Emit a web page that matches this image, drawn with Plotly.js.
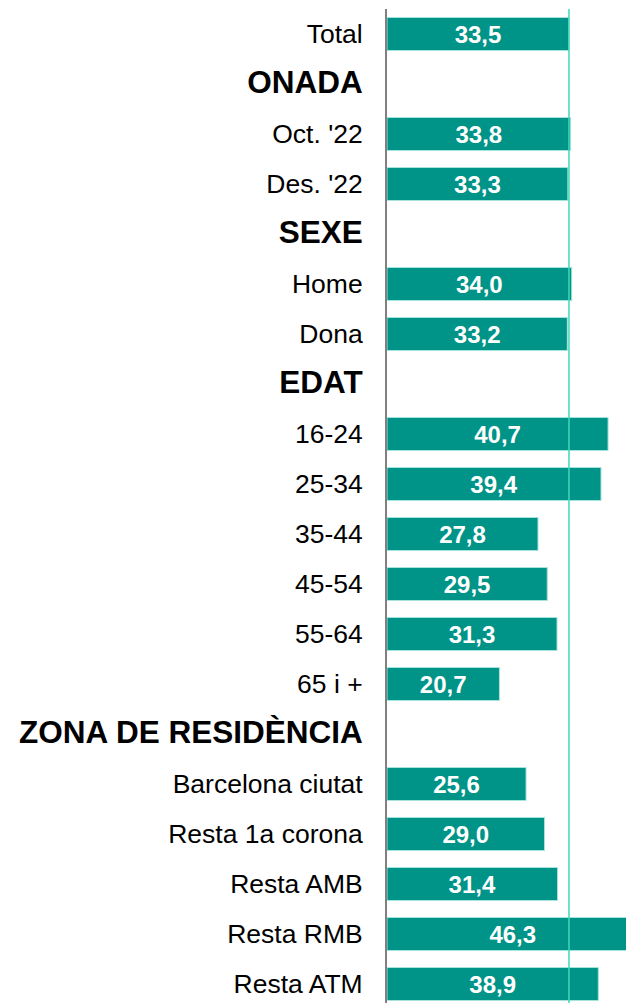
<!DOCTYPE html>
<html>
<head>
<meta charset="utf-8">
<script src="https://cdn.plot.ly/plotly-3.0.1.min.js"></script>
<style>html,body{margin:0;padding:0;background:#fff;}#chart{width:626px;height:1003px;}</style>
</head>
<body>
<div id="chart"></div>
<script>
// Row labels (top to bottom); headers have no bar
const labels = ["Total","ONADA","Oct. '22","Des. '22","SEXE","Home","Dona","EDAT","16-24","25-34","35-44","45-54","55-64","65 i +","ZONA DE RESIDÈNCIA","Barcelona ciutat","Resta 1a corona","Resta AMB","Resta RMB","Resta ATM"];
const isHeader = [false,true,false,false,true,false,false,true,false,false,false,false,false,false,true,false,false,false,false,false];
const values = [33.5,null,33.8,33.3,null,34.0,33.2,null,40.7,39.4,27.8,29.5,31.3,20.7,null,25.6,29.0,31.4,46.3,38.9];

const idx = labels.map((_, i) => i);
const fmt = v => v == null ? "" : v.toFixed(1).replace(".", ",");
const tickText = labels.map((l, i) => isHeader[i]
  ? '<span style="font-size:31.5px;font-weight:bold">' + l + '</span>'
  : l);

const bars = {
  type: "bar",
  orientation: "h",
  y: idx,
  x: values,
  width: 0.66,
  marker: {color: "#009488", line: {color: "#a6e3da", width: 1}},
  text: values.map(fmt),
  textposition: "inside",
  insidetextanchor: "middle",
  constraintext: "none",
  textfont: {family: "Liberation Sans, Arial, sans-serif", size: 24, color: "#ffffff", weight: "bold"},
  hoverinfo: "skip",
  cliponaxis: true
};

const layout = {
  width: 626,
  height: 1003,
  margin: {l: 387, r: 0, t: 9, b: 0, pad: 0},
  paper_bgcolor: "#ffffff",
  plot_bgcolor: "#ffffff",
  showlegend: false,
  font: {family: "Liberation Sans, Arial, sans-serif", color: "#000000"},
  xaxis: {
    range: [0, 44],
    showgrid: false,
    zeroline: false,
    showticklabels: false,
    ticks: "",
    showline: false,
    fixedrange: true
  },
  yaxis: {
    type: "linear",
    range: [19.38, -0.5],
    tickmode: "array",
    tickvals: idx,
    ticktext: tickText,
    tickfont: {family: "Liberation Sans, Arial, sans-serif", size: 26.5, color: "#000000"},
    ticks: "outside",
    ticklen: 17,
    tickcolor: "rgba(0,0,0,0)",
    showgrid: false,
    zeroline: false,
    showline: true,
    linecolor: "#808080",
    linewidth: 2,
    fixedrange: true
  },
  shapes: [{
    type: "line",
    xref: "x", yref: "paper",
    x0: values[0], x1: values[0],
    y0: 0, y1: 1,
    line: {color: "#3dd9b8", width: 1.5},
    layer: "above"
  }]
};

Plotly.newPlot("chart", [bars], layout, {staticPlot: true, displayModeBar: false});
</script>
</body>
</html>
